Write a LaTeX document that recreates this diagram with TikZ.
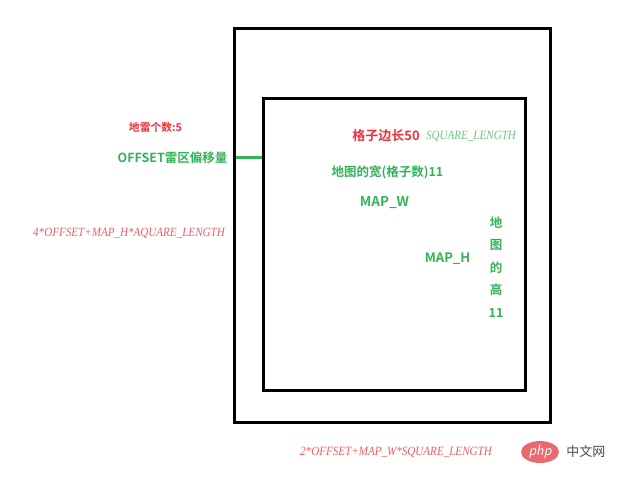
\documentclass[tikz,border=0pt]{standalone}
\usepackage{fontspec}
\usepackage{tikz}
\usepackage{xcolor}
\usetikzlibrary{positioning, shapes.geometric}
\newfontfamily\cjk{Noto Sans CJK SC}[BoldFont={Noto Sans CJK SC Bold}]
\newfontfamily\formula{Liberation Serif}
\definecolor{minered}{RGB}{240,48,60}
\definecolor{mapgreen}{RGB}{52,178,88}
\definecolor{formulared}{RGB}{242,92,104}
\definecolor{formulagreen}{RGB}{110,196,132}
\definecolor{logored}{RGB}{234,104,112}
\newcommand{\narrowtext}[1]{\scalebox{0.88}[1]{#1}}
\tikzstyle{frame} = [line width=3pt, black]
\tikzstyle{redlabel} = [inner sep=0pt, text=minered, font=\cjk\bfseries\fontsize{13}{15}\selectfont]
\tikzstyle{greenlabel} = [inner sep=0pt, text=mapgreen, font=\cjk\bfseries\fontsize{13}{15}\selectfont]
\tikzstyle{formulatext} = [inner sep=0pt, font=\formula\itshape\fontsize{12.6}{14}\selectfont]

\begin{document}
\begin{tikzpicture}[x=1pt, y=-1pt]
        \useasboundingbox[fill=white] (0,0) rectangle (619,478);
        % frames
        \draw[frame] (234.5,29) rectangle (550,423);
        \draw[frame] (263.5,98.5) rectangle (525,390.5);
        \coordinate (offsetstart) at (236,157.5);
        \coordinate (offsetend) at (262,157.5);
        \draw[line width=3pt, mapgreen] (offsetstart) -- (offsetend);
        % labels left
        \node[redlabel, font=\cjk\bfseries\fontsize{10.8}{12}\selectfont] (mines) at (155.5,127) {地雷个数:5};
        \node[greenlabel, font=\cjk\bfseries\fontsize{12.5}{14}\selectfont] (offset) at (172.5,158) {OFFSET雷区偏移量};
        \node[formulatext, text=formulared] (mapheightformula) at (129,233) {\narrowtext{4*OFFSET+MAP\_H*AQUARE\_LENGTH}};
        % labels inside
        \node[redlabel] (cellsize) at (386,136) {格子边长50};
        \node[formulatext, text=formulagreen] (squarelength) at (471,136) {\narrowtext{SQUARE\_LENGTH}};
        \node[greenlabel, font=\cjk\bfseries\fontsize{12.5}{14}\selectfont] (mapwidthtext) at (387.5,172) {地图的宽(格子数)11};
        \node[greenlabel, font=\cjk\bfseries\fontsize{13.5}{15}\selectfont] (mapw) at (384.5,203) {MAP\_W};
        \node[greenlabel] (maph) at (447.5,259) {MAP\_H};
        \node[greenlabel, align=center, font=\cjk\bfseries\fontsize{12.5}{22.5}\selectfont] (mapheighttext) at (496,267) {地\\图\\的\\高\\11};
        % bottom
        \node[formulatext, text=formulared] (mapwidthformula) at (396,452) {\narrowtext{2*OFFSET+MAP\_W*SQUARE\_LENGTH}};
        \node[ellipse, fill=logored, minimum width=38pt, minimum height=22pt, inner sep=0pt, text=white, font=\sffamily\itshape\fontsize{15}{15}\selectfont] (logo) at (540,452) {php};
        \node[inner sep=0pt, text=black!70, font=\cjk\fontsize{13}{15}\selectfont, right=7pt of logo] (site) {中文网};
\end{tikzpicture}
\end{document}
